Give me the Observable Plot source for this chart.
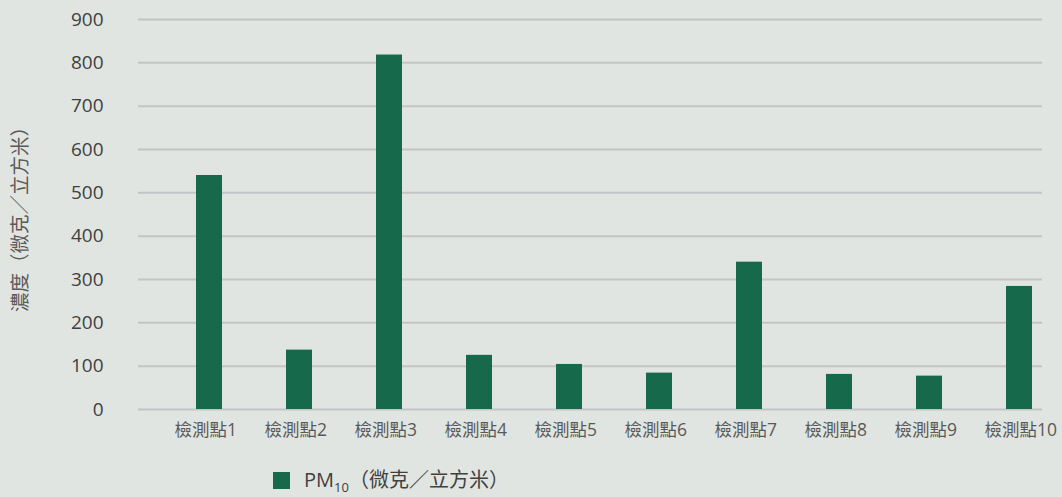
<!DOCTYPE html>
<html><head><meta charset="utf-8">
<script src="https://cdn.jsdelivr.net/npm/d3@7"></script>
<script src="https://cdn.jsdelivr.net/npm/@observablehq/plot@0.6"></script>
<style>
body{margin:0;background:#e1e5e1;font-family:"Open Sans","Noto Sans CJK TC",sans-serif;}
#chart{width:1062px;height:497px;position:relative;overflow:hidden;}
.legend{position:absolute;left:273px;top:464px;display:flex;align-items:center;color:#404040;font-size:20px;font-family:"Open Sans","Noto Sans CJK TC",sans-serif;}
.legend .sw{width:17px;height:17px;margin-right:14px;}
.legend sub{font-size:13px;vertical-align:-5px;}
</style></head>
<body><div id="chart"></div>
<script>
const sites = ["檢測點1","檢測點2","檢測點3","檢測點4","檢測點5","檢測點6","檢測點7","檢測點8","檢測點9","檢測點10"];
const pm10 = [540, 137, 818, 125, 104, 84, 340, 81, 77, 284];
const yTicks = [0,100,200,300,400,500,600,700,800,900];
const seriesName = "PM10（微克／立方米）";
const yLabel = "濃度（微克／立方米）";
const barColor = "#17694b";

const data = sites.map((s,i)=>({site:s, value:pm10[i]}));
const font = '"Open Sans","Noto Sans CJK TC",sans-serif';

const plot = Plot.plot({
  width: 1062,
  height: 456,
  marginLeft: 138,
  marginRight: 20,
  marginTop: 19,
  marginBottom: 47,
  style: {background: "transparent", fontFamily: font},
  x: {domain: sites, padding: 0},
  y: {domain: [0, 900]},
  marks: [
    Plot.gridY(yTicks, {stroke: "#c2c4c5", strokeOpacity: 1, strokeWidth: 2}),
    Plot.barY(data, {x: "site", y: "value", fill: barColor, insetLeft: 56, insetRight: 8}),
    Plot.axisY(yTicks, {tickSize: 0, tickPadding: 35, fontSize: 19, fill: "#404040", label: null}),
    Plot.axisY({ticks: [], label: yLabel, labelAnchor: "center", labelArrow: "none", labelOffset: 125, fontSize: 19.5, fill: "#595959"}),
    Plot.axisX({tickSize: 0, tickPadding: 14, dx: -11, textAnchor: "start", fontSize: 17.5, fill: "#595959", label: null})
  ]
});
const chart = document.getElementById("chart");
chart.appendChild(plot);
const lg = document.createElement("div");
lg.className = "legend";
lg.innerHTML = `<div class="sw" style="background:${barColor}"></div><span>PM<sub>10</sub>（微克／立方米）</span>`;
chart.appendChild(lg);
</script></body></html>
